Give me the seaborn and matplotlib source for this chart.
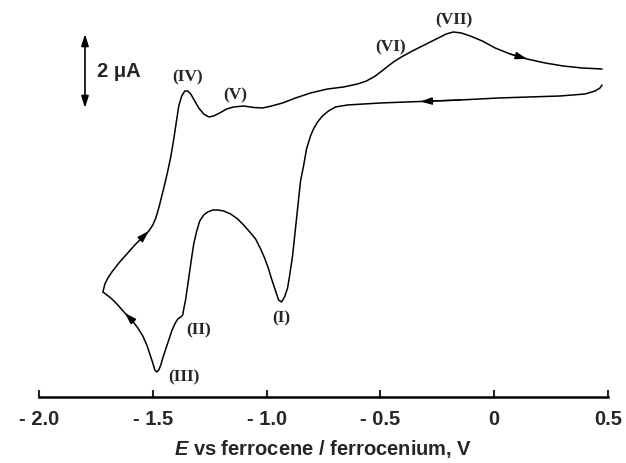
import matplotlib
matplotlib.use("Agg")
import matplotlib.pyplot as plt
import seaborn as sns
import pandas as pd

# ---- data (potential in V vs Fc/Fc+, current in uA; one continuous CV trace) ----
E_V = [0.4737, 0.4649, 0.4430, 0.3991, 0.2895, 0.1579, 0.0175, -0.1491, -0.3246, -0.5000,
       -0.6447, -0.6974, -0.7281, -0.7544, -0.7763, -0.7939, -0.8070, -0.8246, -0.8377, -0.8509,
       -0.8640, -0.8772, -0.8860, -0.8991, -0.9079, -0.9211, -0.9342, -0.9474, -0.9605, -0.9781,
       -0.9912, -1.0088, -1.0263, -1.0482, -1.0702, -1.1009, -1.1272, -1.1579, -1.1886, -1.2149,
       -1.2368, -1.2588, -1.2763, -1.2939, -1.3070, -1.3202, -1.3289, -1.3377, -1.3465, -1.3553,
       -1.3640, -1.3684, -1.3772, -1.3904, -1.4035, -1.4167, -1.4298, -1.4430, -1.4561, -1.4649,
       -1.4737, -1.4825, -1.4912, -1.5000, -1.5132, -1.5263, -1.5439, -1.5658, -1.5921, -1.6228,
       -1.6535, -1.6842, -1.7193,
       -1.7105, -1.6974, -1.6798, -1.6491, -1.6140, -1.5789, -1.5439, -1.5175, -1.5000, -1.4868,
       -1.4737, -1.4605, -1.4474, -1.4342, -1.4211, -1.4079, -1.3947, -1.3860, -1.3728, -1.3596,
       -1.3465, -1.3333, -1.3158, -1.2982, -1.2763, -1.2544, -1.2325, -1.2061, -1.1754, -1.1447,
       -1.1009, -1.0570, -1.0175, -0.9781, -0.9298, -0.8728, -0.8070, -0.7325, -0.6623, -0.6009,
       -0.5614, -0.5219, -0.4825, -0.4430, -0.4079, -0.3596, -0.3070, -0.2544, -0.2105, -0.1798,
       -0.1447, -0.1053, -0.0526, 0.0044, 0.0702, 0.1447, 0.2237, 0.3026, 0.3860, 0.4737]
I_uA = [0.378, 0.297, 0.216, 0.135, 0.081, 0.054, 0.027, -0.027, -0.068, -0.108,
        -0.162, -0.216, -0.324, -0.459, -0.622, -0.811, -1.000, -1.351, -1.811, -2.216,
        -2.973, -3.730, -4.243, -4.784, -5.108, -5.351, -5.486, -5.432, -5.189, -4.865,
        -4.595, -4.297, -4.054, -3.784, -3.622, -3.405, -3.243, -3.108, -3.027, -3.000,
        -3.000, -3.054, -3.135, -3.297, -3.568, -3.919, -4.270, -4.649, -5.027, -5.405,
        -5.676, -5.838, -5.892, -5.946, -6.081, -6.270, -6.514, -6.757, -7.000, -7.189,
        -7.324, -7.378, -7.324, -7.135, -6.892, -6.649, -6.405, -6.189, -5.973, -5.784,
        -5.568, -5.378, -5.216,
        -5.000, -4.838, -4.676, -4.432, -4.189, -3.946, -3.730, -3.568, -3.405, -3.216,
        -2.946, -2.622, -2.297, -1.946, -1.568, -1.081, -0.541, -0.189, 0.081, 0.216,
        0.216, 0.135, -0.054, -0.243, -0.405, -0.486, -0.459, -0.378, -0.270, -0.216,
        -0.189, -0.230, -0.243, -0.189, -0.108, 0.027, 0.162, 0.270, 0.324, 0.405,
        0.486, 0.622, 0.811, 1.000, 1.135, 1.297, 1.459, 1.622, 1.757, 1.811,
        1.784, 1.703, 1.568, 1.378, 1.216, 1.081, 0.973, 0.892, 0.838, 0.811]

# scan-direction arrows (indices along the trace)
arrow_idx = [7, 68, 79, 127]

# peak labels
peak_labels = ["(I)", "(II)", "(III)", "(IV)", "(V)", "(VI)", "(VII)"]
peak_label_E = [-0.934, -1.298, -1.364, -1.346, -1.136, -0.456, -0.175]
peak_label_I = [-5.89, -6.22, -7.49, 0.62, 0.135, 1.43, 2.16]

# current scale bar
scale_bar_E = -1.798
scale_bar_I = [-0.243, 1.757]
scale_bar_text = "2 μA"

# x axis
x_ticks = [-2.0, -1.5, -1.0, -0.5, 0.0, 0.5]
x_tick_labels = ["- 2.0", "- 1.5", "- 1.0", "- 0.5", "0", "0.5"]
x_label = "$E$ vs ferrocene / ferrocenium, V"

# ---- figure ----
sns.set_style("white")
plt.rcParams["font.family"] = ["Liberation Sans", "DejaVu Sans"]
plt.rcParams["mathtext.fontset"] = "custom"
plt.rcParams["mathtext.it"] = "Liberation Sans:italic:bold"
plt.rcParams["mathtext.rm"] = "Liberation Sans:bold"

fig = plt.figure(figsize=(6.26, 4.64), dpi=100)
ax = fig.add_axes([39 / 626, 66 / 464, 569 / 626, 388 / 464])

df = pd.DataFrame({"E": E_V, "I": I_uA, "order": range(len(E_V))})
sns.lineplot(data=df, x="E", y="I", sort=False, estimator=None, color="black",
             linewidth=1.1, ax=ax)

for i in arrow_idx:
    ax.annotate("", xy=(E_V[i + 1], I_uA[i + 1]), xytext=(E_V[i], I_uA[i]),
                arrowprops=dict(arrowstyle="-|>,head_length=0.7,head_width=0.22",
                                color="black", lw=1.0, shrinkA=0, shrinkB=0))

for lab, e, i in zip(peak_labels, peak_label_E, peak_label_I):
    ax.text(e, i, lab, ha="center", va="center", fontsize=12.5, fontweight="bold",
            family=["Liberation Serif", "DejaVu Serif"])

# scale bar
ax.annotate("", xy=(scale_bar_E, scale_bar_I[1]), xytext=(scale_bar_E, scale_bar_I[0]),
            arrowprops=dict(arrowstyle="<|-|>,head_length=0.7,head_width=0.22",
                            color="black", lw=1.2, shrinkA=0, shrinkB=0))
ax.text(scale_bar_E + 0.052, sum(scale_bar_I) / 2, scale_bar_text, ha="left", va="center",
        fontsize=14.5, fontweight="bold")

ax.set_xlim(-2.0, 0.5)
ax.set_ylim(-8.054, 2.432)
ax.set_xticks(x_ticks)
ax.set_xticklabels(x_tick_labels, fontsize=14.5, fontweight="bold")
ax.set_yticks([])
ax.set_ylabel("")
ax.set_xlabel(x_label, fontsize=14.5, fontweight="bold", labelpad=6)
ax.tick_params(axis="x", direction="in", length=5, width=1.5, pad=9, bottom=True)
for s in ["left", "top", "right"]:
    ax.spines[s].set_visible(False)
ax.spines["bottom"].set_linewidth(1.8)
ax.spines["bottom"].set_color("black")

fig.savefig("out.png", dpi=100)
